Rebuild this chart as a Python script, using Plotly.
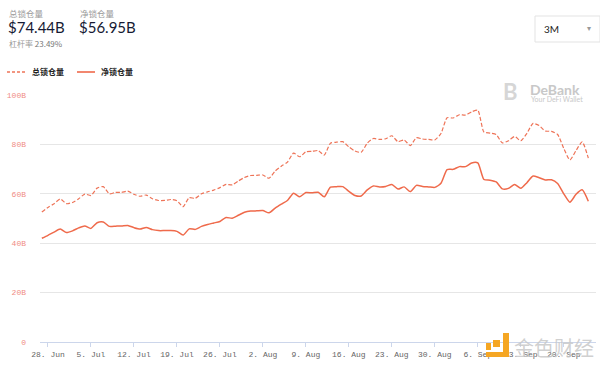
import datetime as dt
import plotly.graph_objects as go

# ---------------- data ----------------
start_date = dt.date(2021, 6, 27)
total_locked = [52.6, 54.5, 56.0, 57.9, 56.0, 56.5, 58.0, 59.9, 59.3, 62.3,
                62.9, 60.0, 60.6, 60.6, 61.1, 59.8, 59.0, 59.5, 58.0, 57.3,
                57.3, 57.7, 57.2, 54.8, 58.4, 58.2, 60.0, 60.8, 61.5, 62.5,
                63.8, 63.6, 65.2, 66.6, 67.4, 67.5, 67.6, 66.3, 69.2, 71.2,
                72.8, 76.5, 75.0, 77.0, 77.2, 77.5, 75.7, 80.5, 80.9, 81.1,
                79.0, 77.3, 76.8, 80.5, 82.4, 82.0, 82.3, 83.5, 81.1, 81.8,
                79.5, 82.7, 82.2, 82.0, 81.8, 84.4, 90.8, 90.7, 92.0, 91.9,
                93.2, 93.8, 85.0, 84.6, 84.0, 80.6, 81.5, 83.2, 81.5, 84.5,
                88.5, 87.6, 85.4, 85.3, 84.0, 78.4, 73.7, 77.5, 81.0, 74.44]
net_locked = [42.0, 43.2, 44.5, 45.7, 44.3, 45.0, 46.2, 47.0, 46.0, 48.3,
              48.6, 46.8, 46.9, 47.0, 47.2, 46.3, 45.7, 46.4, 45.5, 45.1,
              45.1, 45.1, 44.8, 43.3, 45.8, 45.6, 46.8, 47.6, 48.2, 48.8,
              50.4, 50.1, 51.3, 52.5, 53.0, 53.1, 53.2, 52.3, 54.2, 55.8,
              57.3, 60.2, 58.8, 60.5, 60.4, 60.6, 58.8, 62.7, 62.9, 62.9,
              61.0, 59.3, 59.1, 61.6, 63.2, 62.8, 63.0, 63.8, 61.9, 62.8,
              60.9, 63.4, 63.0, 62.8, 62.6, 64.3, 69.8, 69.9, 71.0, 71.0,
              72.5, 72.5, 65.8, 65.5, 64.8, 62.0, 62.2, 63.8, 62.2, 64.5,
              67.2, 66.5, 65.6, 65.7, 64.2, 60.0, 56.6, 59.8, 61.6, 56.95]
dates = [start_date + dt.timedelta(days=i) for i in range(len(total_locked))]

tick_dates = [dt.date(2021, 6, 28) + dt.timedelta(days=7 * i) for i in range(13)]
tick_labels = ["28. Jun", "5. Jul", "12. Jul", "19. Jul", "26. Jul", "2. Aug",
               "9. Aug", "16. Aug", "23. Aug", "30. Aug", "6. Sep", "13. Sep", "20. Sep"]
y_ticks = [0, 20, 40, 60, 80, 100]
y_tick_labels = ["0", "20B", "40B", "60B", "80B", "100B"]

series_names = ["总锁仓量", "净锁仓量"]
summary_values = ["$74.44B", "$56.95B"]
ratio_label = "杠杆率"
ratio_value = "23.49%"
range_label = "3M"

# ---------------- layout helpers ----------------
W, H = 600, 366
ML, MR, MT, MB = 40, 4, 95, 24
PW, PH = W - ML - MR, H - MT - MB


def px(x):
    return (x - ML) / PW


def py(y):
    return (H - MB - y) / PH


LINE = "#ef6a4b"
DASH_LINE = "#ee7458"
base = dt.datetime(2021, 6, 28)
x_range = [base - dt.timedelta(days=1.3), base + dt.timedelta(days=89.25)]

fig = go.Figure()
fig.add_trace(go.Scatter(x=dates, y=total_locked, name=series_names[0], mode="lines",
                         line=dict(color=DASH_LINE, width=1.2, dash="4px,2px", shape="spline",
                                   smoothing=0.6)))
fig.add_trace(go.Scatter(x=dates, y=net_locked, name=series_names[1], mode="lines",
                         line=dict(color=LINE, width=1.5, shape="spline", smoothing=0.6)))

fig.update_layout(
    width=W, height=H,
    margin=dict(l=ML, r=MR, t=MT, b=MB),
    paper_bgcolor="white", plot_bgcolor="white",
    hovermode=False,
    showlegend=False,
    xaxis=dict(type="date", range=x_range, tickvals=tick_dates, ticktext=tick_labels,
               showgrid=False, zeroline=False, showline=True, linecolor="#ccd6eb",
               linewidth=1, ticks="outside", ticklen=4, tickcolor="#ccd6eb",
               tickfont=dict(family="Liberation Mono, Courier New, monospace", size=8,
                             color="#666")),
    yaxis=dict(range=[0, 100], tickvals=y_ticks, ticktext=y_tick_labels,
               showgrid=True, gridcolor="#e6e6e6", gridwidth=1, zeroline=False,
               showline=False, ticklabelstandoff=13,
               tickfont=dict(family="Liberation Mono, Courier New, monospace", size=8,
                             color="#f08c84")),
)

ann = []
# header
for i, xpix in enumerate([7, 78]):
    ann.append(dict(x=px(xpix), y=py(13), xref="paper", yref="paper", xanchor="left",
                    yanchor="middle", showarrow=False, text=series_names[i],
                    font=dict(family="Noto Sans CJK SC", size=8.5, color="#9a9a9a")))
    ann.append(dict(x=px(xpix - 1), y=py(27), xref="paper", yref="paper", xanchor="left",
                    yanchor="middle", showarrow=False, text=summary_values[i],
                    font=dict(family="Lato, Roboto, sans-serif", size=15, color="#161a33")))
ann.append(dict(x=px(7), y=py(43), xref="paper", yref="paper", xanchor="left",
                yanchor="middle", showarrow=False,
                text=f"<span style='color:#9a9a9a'>{ratio_label}</span> {ratio_value}",
                font=dict(family="Noto Sans CJK SC", size=8, color="#777")))
# legend (drawn as text + line samples)
for name, xpix in zip(series_names, [30, 99]):
    ann.append(dict(x=px(xpix), y=py(72), xref="paper", yref="paper", xanchor="left",
                    yanchor="middle", showarrow=False, text=f"<b>{name}</b>",
                    font=dict(family="Noto Sans CJK SC", size=8, color="#222")))
# dropdown
ann.append(dict(x=px(542), y=py(29), xref="paper", yref="paper", xanchor="left",
                yanchor="middle", showarrow=False, text=range_label,
                font=dict(family="Lato, Roboto, sans-serif", size=10, color="#222")))
ann.append(dict(x=px(589), y=py(29), xref="paper", yref="paper", xanchor="center",
                yanchor="middle", showarrow=False, text="▾",
                font=dict(family="DejaVu Sans", size=8, color="#999")))
# DeBank watermark
ann.append(dict(x=px(528), y=py(89), xref="paper", yref="paper", xanchor="left",
                yanchor="middle", showarrow=False, text="<b>DeBank</b>",
                font=dict(family="Lato, sans-serif", size=14, color="#c8c8c8")))
ann.append(dict(x=px(529), y=py(99), xref="paper", yref="paper", xanchor="left",
                yanchor="middle", showarrow=False, text="Your DeFi Wallet",
                font=dict(family="Lato, sans-serif", size=7, color="#c8c8c8")))
ann.append(dict(x=px(510), y=py(91), xref="paper", yref="paper", xanchor="center",
                yanchor="middle", showarrow=False, text="<b>B</b>",
                font=dict(family="Lato, sans-serif", size=22, color="#d6d6d6")))
# Jinse watermark
ann.append(dict(x=px(512), y=py(347), xref="paper", yref="paper", xanchor="left",
                yanchor="middle", showarrow=False, text="金色财经",
                font=dict(family="Noto Sans CJK SC", size=20, color="rgba(200,200,200,0.85)")))
fig.update_layout(annotations=ann)

shapes = [
    # legend samples
    dict(type="line", xref="paper", yref="paper", x0=px(7), x1=px(25), y0=py(72), y1=py(72),
         line=dict(color=DASH_LINE, width=1.3, dash="3px,2px")),
    dict(type="line", xref="paper", yref="paper", x0=px(77), x1=px(95), y0=py(72), y1=py(72),
         line=dict(color=LINE, width=1.6)),
    # dropdown box
    dict(type="rect", xref="paper", yref="paper", x0=px(535), x1=px(600), y0=py(16),
         y1=py(42), line=dict(color="#e3e3e3", width=1), fillcolor="rgba(0,0,0,0)"),
    # Jinse logo blocks
    dict(type="rect", xref="paper", yref="paper", x0=px(493), x1=px(500), y0=py(340),
         y1=py(347), line=dict(width=0), fillcolor="#f5a623"),
    dict(type="rect", xref="paper", yref="paper", x0=px(503), x1=px(509), y0=py(333),
         y1=py(355), line=dict(width=0), fillcolor="#f5a623"),
    dict(type="rect", xref="paper", yref="paper", x0=px(486), x1=px(509), y0=py(352),
         y1=py(357), line=dict(width=0), fillcolor="#f5a623"),
    dict(type="rect", xref="paper", yref="paper", x0=px(486), x1=px(491), y0=py(343),
         y1=py(350), line=dict(width=0), fillcolor="#f5a623"),
]
fig.update_layout(shapes=shapes)

fig.write_html("out.html", config={"displayModeBar": False},
               post_script="document.body.style.margin='0';document.body.style.overflow='hidden';")
